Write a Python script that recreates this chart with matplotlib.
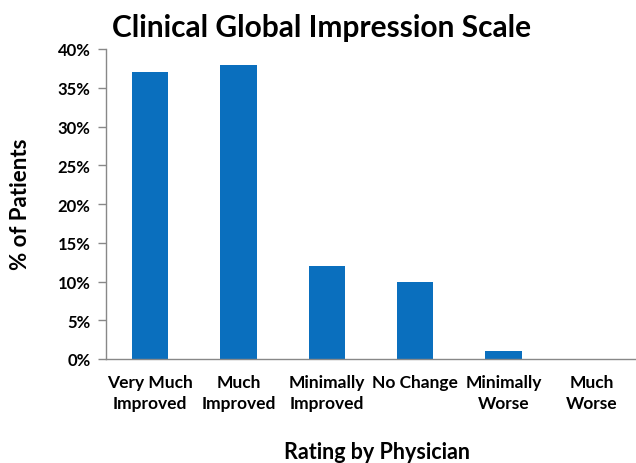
import matplotlib
matplotlib.use("Agg")
import matplotlib.pyplot as plt
from matplotlib.ticker import FuncFormatter, MultipleLocator

categories = ["Very Much\nImproved", "Much\nImproved", "Minimally\nImproved",
              "No Change", "Minimally\nWorse", "Much\nWorse"]
values = [37, 38, 12, 10, 1, 0]

plt.rcParams['font.family'] = ['Lato', 'DejaVu Sans']

fig = plt.figure(figsize=(6.36, 4.64), dpi=100)
ax = fig.add_axes([106/636, 1-360/464, 530/636, 310/464])

x = list(range(len(categories)))
ax.bar(x, values, width=0.41, color='#0A6FBE')
ax.set_xlim(-0.5, len(categories)-0.5)
ax.set_ylim(0, 40)
ax.yaxis.set_major_locator(MultipleLocator(5))
ax.yaxis.set_major_formatter(FuncFormatter(lambda v, p: f"{int(v)}%"))
ax.set_xticks(x)
ax.set_xticklabels(categories, fontsize=12.5, fontweight='bold', linespacing=1.35)
for lab in ax.get_yticklabels():
    lab.set_fontweight('bold')
    lab.set_fontsize(12)
ax.tick_params(axis='x', length=0, pad=11)
ax.tick_params(axis='y', length=6, color='#888888', width=1, pad=5)
for s in ['top', 'right']:
    ax.spines[s].set_visible(False)
for s in ['left', 'bottom']:
    ax.spines[s].set_color('#888888')
    ax.spines[s].set_linewidth(1)

fig.text(322/636, 1-28/464, "Clinical Global Impression Scale", ha='center', va='center',
         fontsize=21.5, fontweight='bold')
fig.text(21/636, 1-204/464, "% of Patients", rotation=90, ha='center', va='center',
         fontsize=16, fontweight='bold')
fig.text(377/636, 1-453/464, "Rating by Physician", ha='center', va='center',
         fontsize=15.5, fontweight='bold')

fig.savefig("out.png", dpi=100)
